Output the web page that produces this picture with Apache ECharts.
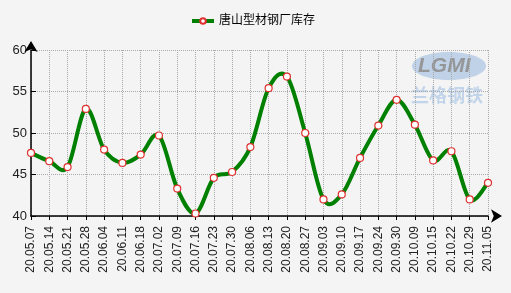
<!DOCTYPE html>
<html><head><meta charset="utf-8">
<script src="https://cdn.jsdelivr.net/npm/echarts@6/dist/echarts.min.js"></script>
<style>html,body{margin:0;padding:0;background:#f4f4f4}#c{width:511px;height:293px}</style>
</head><body><div id="c"></div>
<script>
const categories = ['20.05.07','20.05.14','20.05.21','20.05.28','20.06.04','20.06.11','20.06.18','20.07.02','20.07.09','20.07.16','20.07.23','20.07.30','20.08.06','20.08.13','20.08.20','20.08.27','20.09.03','20.09.10','20.09.17','20.09.24','20.09.30','20.10.09','20.10.15','20.10.22','20.10.29','20.11.05'];
const seriesName = '唐山型材钢厂库存';
const values = [47.6,46.6,45.9,52.9,48.0,46.4,47.4,49.7,43.3,40.3,44.6,45.3,48.3,55.4,56.8,50.0,42.0,42.6,47.0,50.9,54.0,51.0,46.7,47.8,42.0,44.0];
const yTicks = {min:40, max:60, interval:5};

const chart = echarts.init(document.getElementById('c'), null, {renderer:'canvas'});
const fontFamily = '"Liberation Sans", "Noto Sans CJK SC", sans-serif';

// Catmull-Rom segment between point i and i+1, positioned via the axes' own scales
function renderSegment(params, api) {
  const i = params.dataIndex;
  if (i >= values.length - 1) return null;
  const clampIdx = k => Math.max(0, Math.min(values.length - 1, k));
  const p = k => api.coord([clampIdx(k), values[clampIdx(k)]]);
  const p0 = p(i - 1), p1 = p(i), p2 = p(i + 1), p3 = p(i + 2);
  const t = 1 / 6;
  return {
    type: 'bezierCurve',
    shape: {
      x1: p1[0], y1: p1[1], x2: p2[0], y2: p2[1],
      cpx1: p1[0] + (p2[0] - p0[0]) * t, cpy1: p1[1] + (p2[1] - p0[1]) * t,
      cpx2: p2[0] - (p3[0] - p1[0]) * t, cpy2: p2[1] - (p3[1] - p1[1]) * t
    },
    style: { stroke: '#008000', lineWidth: 4, fill: null, lineCap: 'round' },
    silent: true
  };
}

chart.setOption({
  backgroundColor:'#f4f4f4',
  animation:false,
  textStyle:{fontFamily:fontFamily},
  legend:{
    top:10, left:185,
    itemWidth:22, itemHeight:7, itemGap:10,
    textStyle:{fontSize:12, color:'#000', fontFamily:fontFamily},
    lineStyle:{color:'#008000', width:4, opacity:1},
    data:[seriesName]
  },
  grid:{left:31, right:23, top:50, bottom:77, containLabel:false},
  graphic:[
    {type:'ellipse', shape:{cx:449, cy:66, rx:37, ry:14}, style:{fill:'#b3c9e4', opacity:0.8}, z:-1},
    {type:'text', left:418, top:56, style:{text:'LGMI', font:'italic bold 21px "Liberation Sans"', fill:'#8f8f8f', opacity:0.9}, z:-1},
    {type:'text', left:411, top:86, style:{text:'兰格钢铁', font:'bold 18px "Noto Sans CJK SC"', fill:'#bcd0e8', opacity:0.9}, z:-1}
  ],
  xAxis:{
    type:'category', data:categories, boundaryGap:false,
    axisLine:{lineStyle:{color:'#000', width:1.5}, symbol:['none','arrow'], symbolSize:[10,11], symbolOffset:[0,14]},
    axisTick:{show:true, inside:false, length:4, lineStyle:{color:'#000'}},
    axisLabel:{rotate:90, fontSize:12, color:'#222', margin:10, interval:0, fontFamily:'"Liberation Sans", sans-serif'},
    splitLine:{show:true, lineStyle:{color:'#aaa', type:'dotted', width:1}}
  },
  yAxis:{
    type:'value', min:yTicks.min, max:yTicks.max, interval:yTicks.interval,
    axisLine:{show:true, lineStyle:{color:'#000', width:1.5}, symbol:['none','arrow'], symbolSize:[10,11], symbolOffset:[0,9]},
    axisTick:{show:true, inside:true, length:5, lineStyle:{color:'#000'}},
    axisLabel:{fontSize:13, color:'#222', margin:4, fontFamily:'"Liberation Sans", sans-serif'},
    splitLine:{show:true, lineStyle:{color:'#aaa', type:'dotted', width:1}}
  },
  series:[
    {
      name:seriesName+'_curve', type:'custom', coordinateSystem:'cartesian2d',
      data: values.map((v, i) => [i, v]),
      renderItem: renderSegment, z:2, silent:true
    },
    {
      name:seriesName, type:'line', data:values, smooth:false,
      symbol:'circle', symbolSize:7,
      lineStyle:{color:'#008000', width:4, opacity:0},
      itemStyle:{color:'#fff', borderColor:'#e03030', borderWidth:1.2},
      z:3
    }
  ]
});
</script></body></html>
